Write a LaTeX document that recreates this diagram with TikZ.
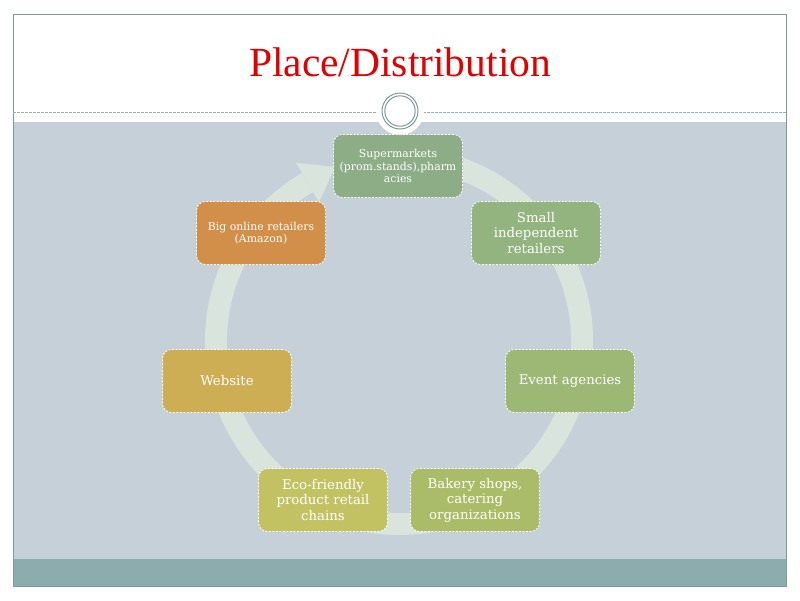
\documentclass[tikz,border=0pt]{standalone}
\usepackage{fontspec}
\setmainfont{DejaVu Serif}
\newfontfamily\titlefont{Liberation Serif}
\usetikzlibrary{calc}
\definecolor{bgblue}{HTML}{C5D0D8}
\definecolor{tealbar}{HTML}{8BADAD}
\definecolor{framec}{HTML}{7E9A9A}
\definecolor{ringc}{HTML}{D9E4DD}
\definecolor{cA}{HTML}{8DAD87}
\definecolor{cB}{HTML}{93B47E}
\definecolor{cC}{HTML}{9DB874}
\definecolor{cD}{HTML}{AABC68}
\definecolor{cE}{HTML}{C3C263}
\definecolor{cF}{HTML}{CEAE55}
\definecolor{cG}{HTML}{D18F4A}
\definecolor{titlered}{HTML}{E00000}
\tikzset{
  cyclebox/.style={draw=white, line width=0.8pt, dash pattern=on 2pt off 1.5pt,
    rounded corners=9pt, minimum width=129pt, minimum height=63pt,
    text=white, align=center, inner sep=2pt, font=\fontsize{13.3}{15.5}\selectfont},
  smallbox/.style={cyclebox, font=\fontsize{10.9}{12.5}\selectfont},
  ringline/.style={draw=ringc, line width=22pt},
}
\begin{document}
\begin{tikzpicture}[x=1pt,y=-1pt]
\useasboundingbox (0,0) rectangle (800,600);
\fill[white] (0,0) rectangle (800,600);
% background regions
\fill[bgblue] (13,122) rectangle (786,559);
\fill[tealbar] (13,559) rectangle (786,586);
\draw[framec, line width=1pt] (13,14) rectangle (786,586);
% dashed separator
\draw[framec!80, line width=0.7pt, dash pattern=on 2.5pt off 1.5pt] (13,112) -- (377,112);
\draw[framec!80, line width=0.7pt, dash pattern=on 2.5pt off 1.5pt] (423,112) -- (786,112);
% ornament
\fill[white] (400,111) circle[radius=24];
\draw[framec, line width=1pt] (400,111) circle[radius=18];
\draw[framec, line width=1pt] (400,111) circle[radius=15.2];
% title
\node[font=\titlefont\fontsize{41.5}{44}\selectfont, text=titlered] (title) at (400,62) {Place/Distribution};
% ring with arrow
\coordinate (c) at (399,341);
\draw[ringline] ($(c)+(-85:183)$) arc[start angle=-85, end angle=240, radius=183];
\coordinate (ab1) at ($(c)+(240:206)$);
\coordinate (ab2) at ($(c)+(240:160)$);
\coordinate (atip) at (335,167);
\fill[ringc] (ab1) -- (atip) -- (ab2) -- cycle;
% nodes
\node[smallbox, fill=cA] (n1) at (398,166) {Supermarkets\\(prom.stands),pharm\\acies};
\node[cyclebox, fill=cB] (n2) at (536,233) {Small\\independent\\retailers};
\node[cyclebox, fill=cC] (n3) at (570,381) {Event agencies};
\node[cyclebox, fill=cD] (n4) at (475,500) {Bakery shops,\\catering\\organizations};
\node[cyclebox, fill=cE] (n5) at (323,500) {Eco-friendly\\product retail\\chains};
\node[cyclebox, fill=cF] (n6) at (227,381) {Website};
\node[smallbox, fill=cG] (n7) at (261,233) {Big online retailers\\(Amazon)};
\end{tikzpicture}
\end{document}
